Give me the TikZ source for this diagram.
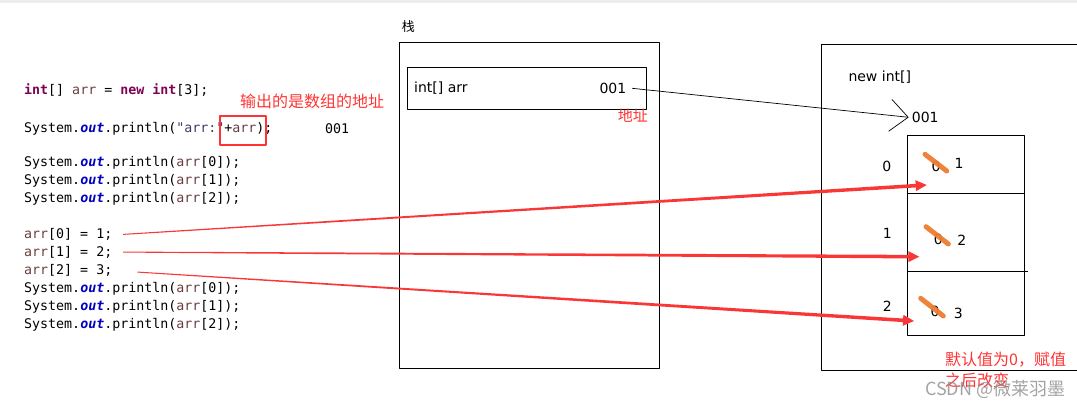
\documentclass[tikz,border=0pt]{standalone}
\usepackage{fontspec}
\setmainfont{DejaVu Sans}
\setmonofont{DejaVu Sans Mono}
\newfontfamily\cjk{Noto Sans CJK SC}
\usetikzlibrary{calc,arrows.meta}

\definecolor{kwpurple}{RGB}{127,0,85}
\definecolor{outblue}{RGB}{0,0,192}
\definecolor{varbrown}{RGB}{106,62,62}
\definecolor{strgray}{RGB}{60,60,100}
\definecolor{notered}{RGB}{255,51,51}
\definecolor{arrowred}{RGB}{250,55,55}
\definecolor{strikeorange}{RGB}{237,125,49}

\newcommand\jkw[1]{\textcolor{kwpurple}{\bfseries #1}}
\newcommand\jout{\textcolor{outblue}{\bfseries\itshape out}}
\newcommand\jarr{\textcolor{varbrown}{arr}}

% tapered red arrow from #1 to #2
\newcommand\redarrow[2]{%
	\path ($(#2)!11pt!(#1)$) coordinate (ahbase);
	\fill[arrowred] ($(#1)!0.5pt!90:(#2)$) -- ($(ahbase)!1.8pt!90:(#2)$) -- ($(ahbase)!5.5pt!90:(#2)$) -- (#2) -- ($(ahbase)!5.5pt!-90:(#2)$) -- ($(ahbase)!1.8pt!-90:(#2)$) -- ($(#1)!0.5pt!-90:(#2)$) -- cycle;}

\tikzset{
	code/.style={anchor=base west, inner sep=0pt, font=\ttfamily\fontsize{13.3}{16}\selectfont},
	lbl/.style={inner sep=0pt, font=\fontsize{14}{16}\selectfont},
	note/.style={inner sep=0pt, anchor=west, text=notered, font=\cjk\fontsize{16}{18}\selectfont},
	strike/.style={strikeorange, line width=5pt, line cap=round, opacity=0.95},
	box/.style={draw, line width=0.8pt, inner sep=0pt, anchor=north west},
}

\begin{document}
\begin{tikzpicture}[x=1pt, y=-1pt, line join=round]
	\useasboundingbox (0,0) rectangle (1077,407);
	\fill[black!7] (0,0) rectangle (1077,2.7);
	% code
	\node[code] (c1) at (24,94.5) {\jkw{int}[] \jarr{} = \jkw{new} \jkw{int}[3];};
	\node[code] (c2) at (24,132.5) {System.\jout.println(\textcolor{strgray}{"arr:"}+\jarr);};
	\node[code] (addr) at (325,133.5) {001};
	\node[code] (c3) at (24,166.2) {System.\jout.println(\jarr[0]);};
	\node[code] (c4) at (24,184.5) {System.\jout.println(\jarr[1]);};
	\node[code] (c5) at (24,202.8) {System.\jout.println(\jarr[2]);};
	\node[code] (c6) at (24,238.5) {\jarr[0] = 1;};
	\node[code] (c7) at (24,256.2) {\jarr[1] = 2;};
	\node[code] (c8) at (24,274.5) {\jarr[2] = 3;};
	\node[code] (c9) at (24,292.5) {System.\jout.println(\jarr[0]);};
	\node[code] (c10) at (24,310.5) {System.\jout.println(\jarr[1]);};
	\node[code] (c11) at (24,328.5) {System.\jout.println(\jarr[2]);};
	\node[draw=notered, line width=2.5pt, inner sep=0pt, minimum width=46pt, minimum height=29pt] (hl) at (243,130.5) {};
	\node[note] (n1) at (240,101.7) {输出的是数组的地址};
	% stack
	\node[box, minimum width=260pt, minimum height=326.5pt] (stack) at (399,41.7) {};
	\node[lbl, anchor=west, font=\cjk\fontsize{13}{15}\selectfont] (stacklbl) at (401.7,26.7) {栈};
	\node[box, minimum width=238.4pt, minimum height=42.6pt] (var) at (407.3,66.7) {};
	\node[lbl, anchor=west] (varname) at (414,88.3) {int[] arr};
	\node[lbl, anchor=west] (p) at (599.3,88.3) {001};
	\node[note, font=\cjk\fontsize{15}{17}\selectfont] (n2) at (617.7,116) {地址};
	% heap
	\draw[line width=0.8pt] (1077,44) -- (821.7,44) -- (821.7,370) -- (1077,370);
	\node[lbl, anchor=west] (newlbl) at (848.3,76.7) {new int[]};
	\node[lbl, anchor=west] (h001) at (911.7,117.3) {001};
	\draw[-{Straight Barb[length=18pt,width=32pt]}, line width=0.7pt] ([xshift=5.7pt]p.east) -- ([xshift=-3pt]h001.west);
	\node[box, minimum width=117.3pt, minimum height=200.3pt] (arrbox) at (906.7,134.7) {};
	\draw[line width=0.8pt] (906.7,193.3) -- (1025.3,193.3);
	\draw[line width=0.8pt] (906.7,271) -- (1028.3,271);
	\node[lbl] (i0) at (886.7,166.7) {0};
	\node[lbl] (i1) at (887.3,233.3) {1};
	\node[lbl] (i2) at (887.3,306.7) {2};
	\node[lbl] (z0) at (936,166.7) {0};
	\node[lbl] (v0) at (959,163.3) {1};
	\node[lbl] (z1) at (938.3,239) {0};
	\node[lbl] (v1) at (961.7,240.7) {2};
	\node[lbl] (z2) at (935,311.7) {0};
	\node[lbl] (v2) at (958.3,313.3) {3};
	\draw[strike] (925,154.3) -- (946.7,171);
	\draw[strike] (926,226.7) -- (948.3,244);
	\draw[strike] (920.7,298.3) -- (943.3,316);
	% assignments
	\coordinate (s0) at ([xshift=10.7pt]c6.east);
	\coordinate (s1) at ([xshift=10.7pt]c7.east);
	\coordinate (s2) at ([xshift=25pt,yshift=-1.7pt]c8.east);
	\coordinate (e0) at (926.7,185);
	\coordinate (e1) at (919.3,256.7);
	\coordinate (e2) at (914,321);
	\redarrow{s0}{e0}
	\redarrow{s1}{e1}
	\redarrow{s2}{e2}
	\node[note] (n3) at (945,359.3) {默认值为0，赋值};
	\node[note] (n4) at (945,380) {之后改变};
	\node[inner sep=0pt, anchor=west, text=black!45, opacity=0.8, font=\cjk\fontsize{18}{20}\selectfont] (wm) at (925,389.3) {CSDN @微莱羽墨};
\end{tikzpicture}
\end{document}
